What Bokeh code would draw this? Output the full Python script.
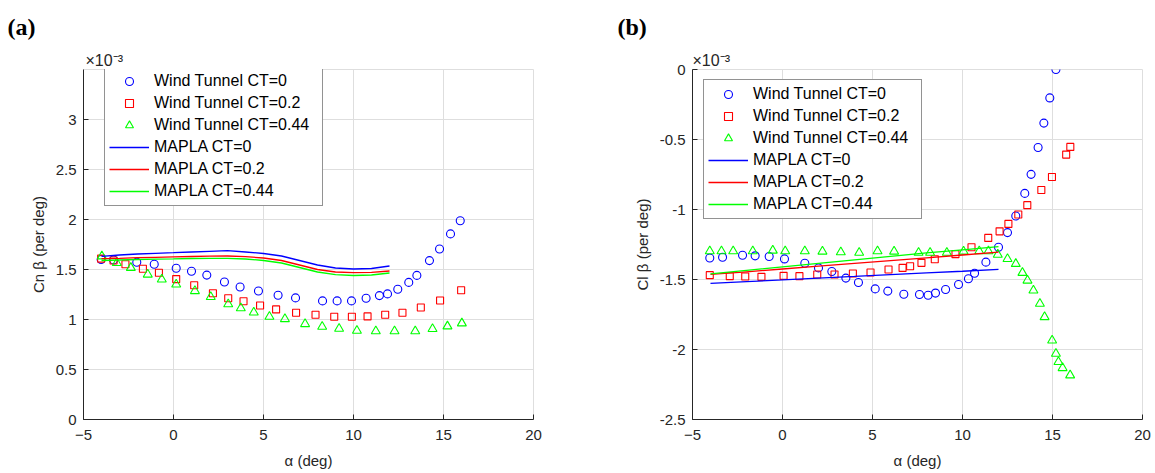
from bokeh.plotting import figure
from bokeh.models import (Legend, LegendItem, Title, FixedTicker,
                          CustomJSTickFormatter, Range1d)
from bokeh.layouts import row
from bokeh.embed import file_html
from bokeh.resources import INLINE

# ---------------- data (values in units of 1e-3 per deg) ----------------
x_ticks = [-5, 0, 5, 10, 15, 20]
cn_ticks = [0, 0.5, 1, 1.5, 2, 2.5, 3]
cl_ticks = [-2.5, -2, -1.5, -1, -0.5, 0]

legend_labels = ["Wind Tunnel CT=0", "Wind Tunnel CT=0.2", "Wind Tunnel CT=0.44",
                 "MAPLA CT=0", "MAPLA CT=0.2", "MAPLA CT=0.44"]

# (a) Cn beta
a_wt0 = [-4.02, -3.33, -2.04, -1.07, 0.15, 1.0, 1.85, 2.83, 3.70, 4.72, 5.81, 6.78,
         8.28, 9.09, 9.89, 10.70, 11.44, 11.89, 12.46, 13.07, 13.52, 14.22, 14.78,
         15.39, 15.93]
cn_wt0 = [1.60, 1.596, 1.573, 1.553, 1.513, 1.483, 1.444, 1.375, 1.325, 1.285, 1.243,
          1.216, 1.186, 1.186, 1.186, 1.213, 1.239, 1.256, 1.302, 1.371, 1.441, 1.589,
          1.705, 1.856, 1.988]
a_wt02 = [-4.02, -3.33, -2.67, -1.70, -0.81, 0.15, 1.15, 2.19, 3.04, 3.89, 4.81, 5.70,
          6.81, 7.89, 8.93, 9.91, 10.78, 11.76, 12.72, 13.74, 14.81, 15.98]
cn_wt02 = [1.609, 1.59, 1.553, 1.507, 1.467, 1.404, 1.342, 1.262, 1.213, 1.183, 1.140,
           1.101, 1.068, 1.048, 1.028, 1.028, 1.031, 1.048, 1.068, 1.120, 1.190, 1.292]
a_wt044 = [-3.98, -3.15, -2.37, -1.43, -0.65, 0.15, 1.19, 2.07, 3.04, 3.74, 4.46, 5.33,
           6.19, 7.31, 8.26, 9.20, 10.19, 11.24, 12.28, 13.43, 14.39, 15.22, 16.02]
cn_wt044 = [1.632, 1.566, 1.517, 1.450, 1.401, 1.351, 1.285, 1.226, 1.153, 1.114, 1.071,
            1.028, 1.005, 0.955, 0.929, 0.909, 0.889, 0.883, 0.883, 0.883, 0.906, 0.932,
            0.962]
a_mapla_cn = [-4, -3, -2, -1, 0, 1, 2, 3, 4, 5, 6, 7, 8, 9, 10, 11, 12]
cn_mapla0 = [1.632, 1.645, 1.655, 1.662, 1.668, 1.675, 1.682, 1.688, 1.675, 1.66, 1.635,
             1.59, 1.545, 1.515, 1.505, 1.51, 1.535]
cn_mapla02 = [1.608, 1.612, 1.618, 1.622, 1.626, 1.63, 1.633, 1.635, 1.628, 1.615, 1.59,
              1.545, 1.5, 1.475, 1.468, 1.472, 1.485]
cn_mapla044 = [1.59, 1.595, 1.6, 1.603, 1.606, 1.61, 1.612, 1.612, 1.605, 1.59, 1.565,
               1.52, 1.475, 1.448, 1.44, 1.445, 1.465]

# (b) Cl beta
b_wt0 = [-4.04, -3.33, -2.22, -1.52, -0.74, 0.11, 1.24, 2.0, 2.74, 3.52, 4.22, 5.15,
         5.85, 6.74, 7.61, 8.09, 8.5, 9.06, 9.78, 10.33, 10.67, 11.3, 12.0, 12.5, 12.96,
         13.46, 13.81, 14.2, 14.52, 14.85, 15.19]
cl_wt0 = [-1.346, -1.341, -1.327, -1.331, -1.336, -1.353, -1.384, -1.417, -1.443, -1.49,
          -1.521, -1.567, -1.583, -1.605, -1.607, -1.612, -1.597, -1.571, -1.536, -1.495,
          -1.455, -1.376, -1.27, -1.165, -1.046, -0.885, -0.749, -0.557, -0.383, -0.203,
          0.0]
b_wt02 = [-4.04, -2.93, -2.07, -1.17, 0.06, 0.94, 1.93, 2.89, 3.91, 4.89, 5.89, 6.67,
          7.09, 7.72, 8.46, 9.61, 10.5, 11.43, 12.06, 12.55, 13.1, 13.6, 14.38, 14.97,
          15.76, 15.99]
cl_wt02 = [-1.469, -1.476, -1.479, -1.481, -1.474, -1.476, -1.464, -1.464, -1.457, -1.45,
           -1.429, -1.417, -1.405, -1.381, -1.355, -1.319, -1.27, -1.203, -1.156, -1.103,
           -1.036, -0.969, -0.861, -0.768, -0.608, -0.553]
b_wt044 = [-4.04, -3.39, -2.74, -1.65, -0.54, 0.15, 1.24, 2.22, 3.24, 4.26, 5.28, 6.2,
           7.56, 8.2, 9.13, 10.06, 10.93, 11.44, 11.96, 12.5, 12.96, 13.33, 13.61, 13.94,
           14.3, 14.56, 14.98, 15.19, 15.33, 15.56, 15.98]
cl_wt044 = [-1.298, -1.298, -1.298, -1.298, -1.293, -1.298, -1.298, -1.30, -1.305, -1.308,
            -1.298, -1.30, -1.308, -1.308, -1.308, -1.30, -1.298, -1.298, -1.322, -1.353,
            -1.388, -1.452, -1.507, -1.578, -1.673, -1.768, -1.935, -2.03, -2.089, -2.132,
            -2.184]
b_mapla = [-4, -2, 0, 2, 4, 6, 8, 10, 12]
cl_mapla0 = [-1.527, -1.515, -1.503, -1.49, -1.478, -1.465, -1.453, -1.441, -1.428]
cl_mapla02 = [-1.464, -1.445, -1.425, -1.405, -1.385, -1.365, -1.345, -1.325, -1.305]
cl_mapla044 = [-1.46, -1.435, -1.41, -1.385, -1.36, -1.335, -1.31, -1.288, -1.265]

# ---------------- styling ----------------
FONT = "Liberation Sans"
AX = "#262626"
GRID = "#dedede"
BLUE, RED, GREEN = "#0000ff", "#ff0000", "#00ff00"


def make_fig(width, bl, br, bt, bb, yr, yticks, ylabel):
    p = figure(width=width, height=473, output_backend="svg", toolbar_location=None,
               x_range=Range1d(-5, 20), y_range=Range1d(*yr),
               min_border_left=bl, min_border_right=br, min_border_top=bt,
               min_border_bottom=bb)
    p.xaxis.ticker = FixedTicker(ticks=x_ticks)
    p.yaxis.ticker = FixedTicker(ticks=yticks)
    p.yaxis.formatter = CustomJSTickFormatter(code="return String(Math.round(tick*10)/10)")
    p.xaxis.axis_label = "α (deg)"
    p.yaxis.axis_label = ylabel
    for ax in (p.xaxis[0], p.yaxis[0]):
        ax.axis_line_color = AX
        ax.major_tick_line_color = AX
        ax.major_tick_in = 5
        ax.major_tick_out = 0
        ax.minor_tick_line_color = None
        ax.major_label_text_font = FONT
        ax.major_label_text_font_size = "15px"
        ax.major_label_text_color = AX
        ax.axis_label_text_font = FONT
        ax.axis_label_text_font_size = "15px"
        ax.axis_label_text_font_style = "normal"
        ax.axis_label_text_color = AX
    p.xaxis.major_label_standoff = 10
    p.xaxis.axis_label_standoff = 9
    p.yaxis.major_label_standoff = 7
    p.yaxis.axis_label_standoff = 6
    p.xgrid.grid_line_color = GRID
    p.ygrid.grid_line_color = GRID
    p.outline_line_color = GRID
    p.background_fill_color = "white"
    p.border_fill_color = "white"
    return p


def add_series(p, wt, mapla):
    rs = []
    for (x, y), marker, col, sz in zip(wt, ["circle", "square", "triangle"],
                                       [BLUE, RED, GREEN], [8, 7, 9]):
        rs.append(p.scatter(x, y, marker=marker, size=sz, fill_color=None,
                            line_color=col, line_width=1.1))
    for (x, y), col in zip(mapla, [BLUE, RED, GREEN]):
        rs.append(p.line(x, y, line_color=col, line_width=1.3))
    return rs


def add_legend(p, rs, loc):
    items = [LegendItem(label=l, renderers=[r]) for l, r in zip(legend_labels, rs)]
    lg = Legend(items=items, location=loc, margin=0, padding=4, spacing=2,
                glyph_width=40, glyph_height=20, label_height=20, label_width=164,
                label_standoff=5, label_text_font=FONT, label_text_font_size="16px",
                label_text_color="black", border_line_color=AX, border_line_width=1,
                background_fill_color="white", background_fill_alpha=1.0)
    p.add_layout(lg)


def add_texts(p, tag, tag_off, exp_off):
    p.add_layout(Title(text="×10⁻³", align="left", offset=exp_off, standoff=2,
                       text_font=FONT, text_font_size="16px", text_font_style="normal",
                       text_color=AX), "above")
    p.add_layout(Title(text=tag, align="left", offset=tag_off, standoff=18,
                       text_font="Liberation Serif", text_font_style="bold",
                       text_font_size="24px", text_color="black"), "above")


# ---- (a) ----
pa = make_fig(577, 83, 44, 67, 53, (0, 3.5), cn_ticks, "Cn β (per deg)")
ra = add_series(pa, [(a_wt0, cn_wt0), (a_wt02, cn_wt02), (a_wt044, cn_wt044)],
                [(a_mapla_cn, cn_mapla0), (a_mapla_cn, cn_mapla02), (a_mapla_cn, cn_mapla044)])
add_legend(pa, ra, (21, 213))
add_texts(pa, "(a)", -76, 2)

# ---- (b) ----
pb = make_fig(578, 115, 13, 69, 54, (-2.5, 0), cl_ticks, "Cl β (per deg)")
rb = add_series(pb, [(b_wt0, cl_wt0), (b_wt02, cl_wt02), (b_wt044, cl_wt044)],
                [(b_mapla, cl_mapla0), (b_mapla, cl_mapla02), (b_mapla, cl_mapla044)])
add_legend(pb, rb, (11, 200))
add_texts(pb, "(b)", -75, 0)

layout = row(pa, pb, spacing=0)
open("out.html", "w").write(file_html(layout, INLINE))
